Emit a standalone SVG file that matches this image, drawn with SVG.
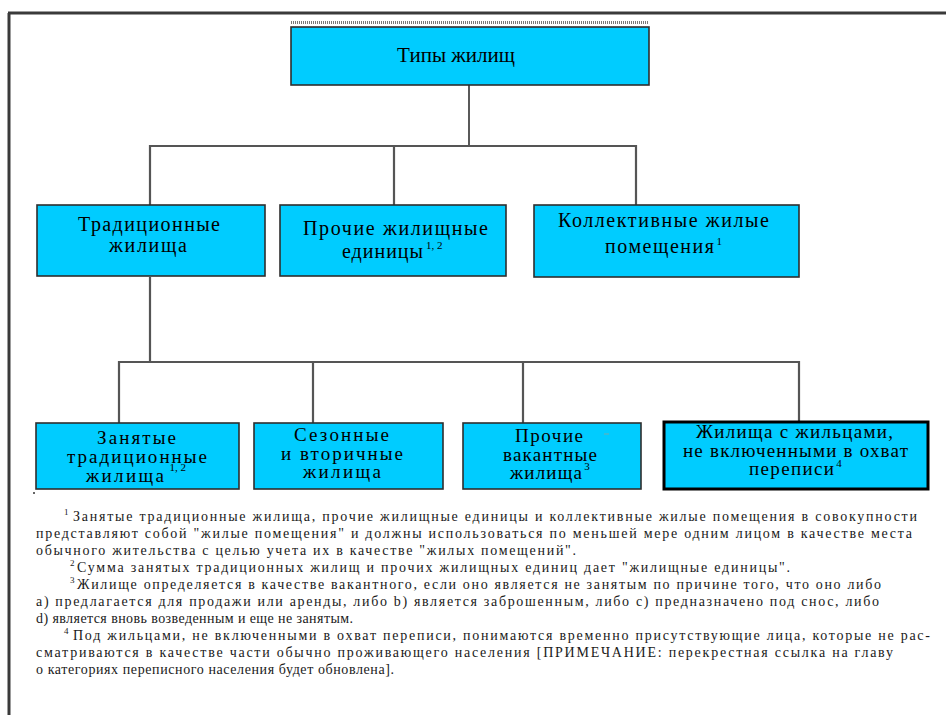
<svg xmlns="http://www.w3.org/2000/svg" width="946" height="715" viewBox="0 0 946 715">
<style>
.box{fill:#00CCFF;stroke:#2e2e2e;stroke-width:1.6}
.boxb{fill:#00CCFF;stroke:#000;stroke-width:3}
.t{font-family:"Liberation Serif","Times New Roman",serif;fill:#000}
.l2{font-size:20px}
.l3{font-size:19px}
.fn{font-size:14px;fill:#1a1a1a}
.sup{font-size:11px}
.fs{font-size:9px}
.c{stroke:#555;stroke-width:2.2;fill:none}
</style>
<rect width="946" height="715" fill="#fff"/>
<g id="frame">
<path d="M8 13 H946 M9 13 V715" stroke="#3a3a3a" stroke-width="3" fill="none"/>
</g>
<g id="connectors">
<line x1="469" y1="85" x2="469" y2="146" stroke="#000" stroke-width="1.3"/>
<path class="c" d="M150 205 V146 H636 V205 M394 146 V205"/>
<path class="c" d="M150 277 V362 M119 423 V362 H799 V421 M313 362 V423 M523 362 V423"/>
</g>
<g id="n-root">
<line x1="291" y1="22.5" x2="649" y2="22.5" stroke="#777" stroke-width="3" stroke-dasharray="1 1"/>
<rect class="box" x="291" y="27" width="358" height="58"/>
<text class="t" x="456" y="62" font-size="21" text-anchor="middle">Типы жилищ</text>
</g>
<g id="n-traditional">
<rect class="box" x="37" y="205" width="228" height="71"/>
<text class="t l2" x="78" y="231" textLength="142" lengthAdjust="spacing">Традиционные</text>
<text class="t l2" x="109" y="252" textLength="78" lengthAdjust="spacing">жилища</text>
</g>
<g id="n-other-units">
<rect class="box" x="280" y="205" width="226" height="71"/>
<text class="t l2" x="303" y="235" textLength="185" lengthAdjust="spacing">Прочие жилищные</text>
<text class="t l2" x="342" y="258"><tspan textLength="81" lengthAdjust="spacing">единицы</tspan><tspan class="sup" dx="2" dy="-9">1, 2</tspan></text>
</g>
<g id="n-collective">
<rect class="box" x="534" y="205" width="265" height="72"/>
<text class="t l2" x="558" y="227" textLength="211" lengthAdjust="spacing">Коллективные жилые</text>
<text class="t l2" x="605" y="253"><tspan textLength="109" lengthAdjust="spacing">помещения</tspan><tspan class="sup" dx="1" dy="-8">1</tspan></text>
</g>
<g id="n-occupied">
<rect class="box" x="36" y="423" width="203" height="66"/>
<text class="t l3" x="97" y="444" textLength="79" lengthAdjust="spacing">Занятые</text>
<text class="t l3" x="67" y="463" textLength="140" lengthAdjust="spacing">традиционные</text>
<text class="t l3" x="86" y="482"><tspan textLength="78" lengthAdjust="spacing">жилища</tspan><tspan class="sup" dx="3" dy="-11">1, 2</tspan></text>
</g>
<g id="n-seasonal">
<rect class="box" x="254" y="423" width="189" height="66"/>
<text class="t l3" x="294" y="441" textLength="95" lengthAdjust="spacing">Сезонные</text>
<text class="t l3" x="281" y="460" textLength="122" lengthAdjust="spacing">и вторичные</text>
<text class="t l3" x="303" y="478" textLength="78" lengthAdjust="spacing">жилища</text>
</g>
<g id="n-vacant">
<rect class="box" x="463" y="423" width="178" height="66"/>
<text class="t l3" x="515" y="442" textLength="68" lengthAdjust="spacing">Прочие</text>
<text class="t l3" x="503" y="461" textLength="94" lengthAdjust="spacing">вакантные</text>
<text class="t l3" x="510" y="479"><tspan textLength="72" lengthAdjust="spacing">жилища</tspan><tspan class="sup" dx="1" dy="-9">3</tspan></text>
<line x1="604" y1="434" x2="609" y2="434" stroke="#7aa" stroke-width="1"/>
</g>
<g id="n-not-covered">
<rect class="boxb" x="664" y="422" width="264" height="67"/>
<text class="t l3" x="696" y="438" textLength="197" lengthAdjust="spacing">Жилища с жильцами,</text>
<text class="t l3" x="683" y="457" textLength="225" lengthAdjust="spacing">не включенными в охват</text>
<text class="t l3" x="749" y="475"><tspan textLength="85" lengthAdjust="spacing">переписи</tspan><tspan class="sup" dx="1" dy="-8">4</tspan></text>
</g>
<circle cx="34" cy="493" r="1" fill="#333"/>
<g id="footnotes">
<text class="t fn" x="64" y="521"><tspan class="fs" dy="-6">1</tspan><tspan x="73" dy="6" textLength="844" lengthAdjust="spacing">Занятые традиционные жилища, прочие жилищные единицы и коллективные жилые помещения в совокупности</tspan></text>
<text class="t fn" x="36" y="538" textLength="876" lengthAdjust="spacing">представляют собой "жилые помещения" и должны использоваться по меньшей мере одним лицом в качестве места</text>
<text class="t fn" x="36" y="555" textLength="540" lengthAdjust="spacing">обычного жительства с целью учета их в качестве "жилых помещений".</text>
<text class="t fn" x="70" y="572"><tspan class="fs" dy="-6">2</tspan><tspan x="77" dy="6" textLength="713" lengthAdjust="spacing">Сумма занятых традиционных жилищ и прочих жилищных единиц дает "жилищные единицы".</tspan></text>
<text class="t fn" x="70" y="589"><tspan class="fs" dy="-6">3</tspan><tspan x="77" dy="6" textLength="804" lengthAdjust="spacing">Жилище определяется в качестве вакантного, если оно является не занятым по причине того, что оно либо</tspan></text>
<text class="t fn" x="36" y="606" textLength="843" lengthAdjust="spacing">a) предлагается для продажи или аренды, либо b) является заброшенным, либо c) предназначено под снос, либо</text>
<text class="t fn" x="36" y="623" textLength="317" lengthAdjust="spacing">d) является вновь возведенным и еще не занятым.</text>
<text class="t fn" x="64" y="640"><tspan class="fs" dy="-6">4</tspan><tspan x="73" dy="6" textLength="857" lengthAdjust="spacing">Под жильцами, не включенными в охват переписи, понимаются временно присутствующие лица, которые не рас-</tspan></text>
<text class="t fn" x="36" y="657" textLength="857" lengthAdjust="spacing">сматриваются в качестве части обычно проживающего населения [ПРИМЕЧАНИЕ: перекрестная ссылка на главу</text>
<text class="t fn" x="36" y="674" textLength="358" lengthAdjust="spacing">о категориях переписного населения будет обновлена].</text>
</g>
</svg>
